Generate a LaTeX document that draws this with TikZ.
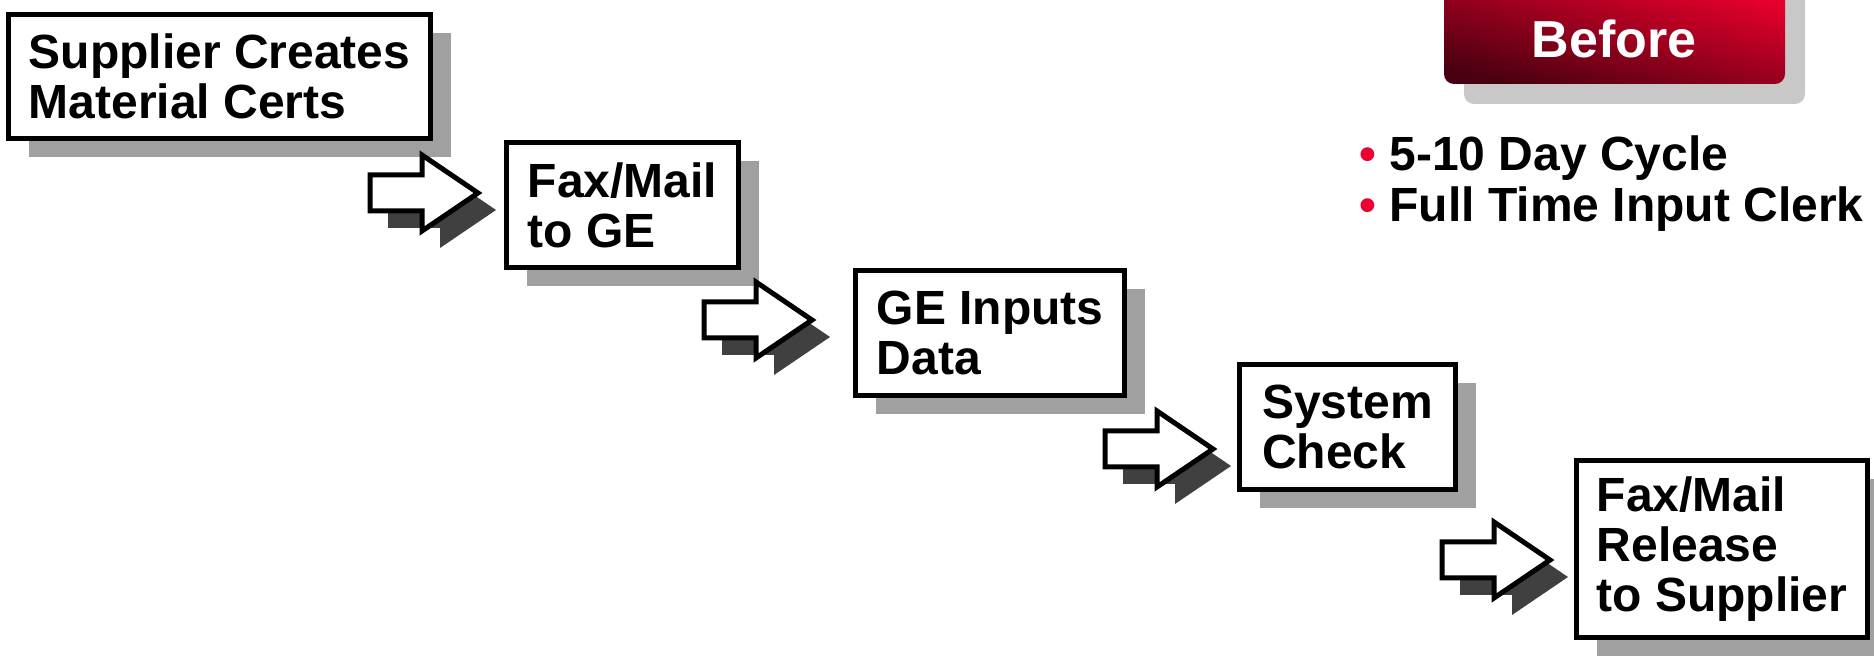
\documentclass[tikz,border=0pt]{standalone}
\usepackage{fontspec}
\setmainfont{Liberation Sans}
\usetikzlibrary{shadows}
\definecolor{boxshadow}{HTML}{A0A0A0}
\definecolor{arrowshadow}{HTML}{404040}
\definecolor{buttonshadow}{HTML}{C8C8C8}
\definecolor{bulletred}{HTML}{EC0030}
\definecolor{btnlight}{HTML}{E4002B}
\definecolor{btndark}{HTML}{4A0010}
\begin{document}
\begin{tikzpicture}[x=0.5pt,y=-0.5pt,
  process box/.style={draw=black,line width=2.5pt,fill=white,align=left,inner sep=0pt,
    font=\fontsize{24}{25}\selectfont\bfseries,
    drop shadow={shadow xshift=10pt,shadow yshift=-9.5pt,fill=boxshadow,opacity=1}},
  bullet text/.style={anchor=base west,inner sep=0pt,font=\fontsize{24}{24}\selectfont\bfseries}]
\useasboundingbox (0,0) rectangle (1874,656);

% process steps
\node[process box,minimum width=211pt,minimum height=62pt] (certs) at (219.5,76.5) {Supplier Creates\\Material Certs};
\node[process box,minimum width=116pt,minimum height=62.5pt] (faxge) at (622.5,205) {Fax/Mail\\to GE};
\node[process box,minimum width=134.5pt,minimum height=62.5pt] (inputs) at (990,333) {GE Inputs\\Data};
\node[process box,minimum width=108pt,minimum height=62.5pt] (check) at (1347.5,427) {System\\Check};
\node[process box,minimum width=145.5pt,minimum height=88.5pt] (release) at (1722,549) {Fax/Mail\\Release\\to Supplier};

% block arrows between the steps
\foreach \tx/\ty [count=\i] in {478/193,812/320,1213/449,1550/560} {
  \coordinate (tip\i) at (\tx,\ty);
  \fill[arrowshadow] ([shift={(18,17)}]tip\i) ++(-108,-18) -- ++(52,0) -- ++(0,-20) -- ++(56,38) -- ++(-56,38) -- ++(0,-20) -- ++(-52,0) -- cycle;
  \filldraw[draw=black,fill=white,line width=2.5pt] (tip\i) ++(-108,-18) -- ++(52,0) -- ++(0,-20) -- ++(56,38) -- ++(-56,38) -- ++(0,-20) -- ++(-52,0) -- cycle;
}

% Before button
\fill[buttonshadow,rounded corners=5pt] (1464,-10) rectangle (1805,104);
\shade[top color=btnlight,bottom color=btndark,shading angle=-15,rounded corners=5pt] (1444,-10) rectangle (1785,84);
\node[text=white,font=\fontsize{26}{26}\selectfont\bfseries] (before) at (1614,39) {Before};

% notes
\node[bullet text] (cycle) at (1359,171) {\textcolor{bulletred}{•} 5-10 Day Cycle};
\node[bullet text] (clerk) at (1359,222) {\textcolor{bulletred}{•} Full Time Input Clerk};
\end{tikzpicture}
\end{document}
